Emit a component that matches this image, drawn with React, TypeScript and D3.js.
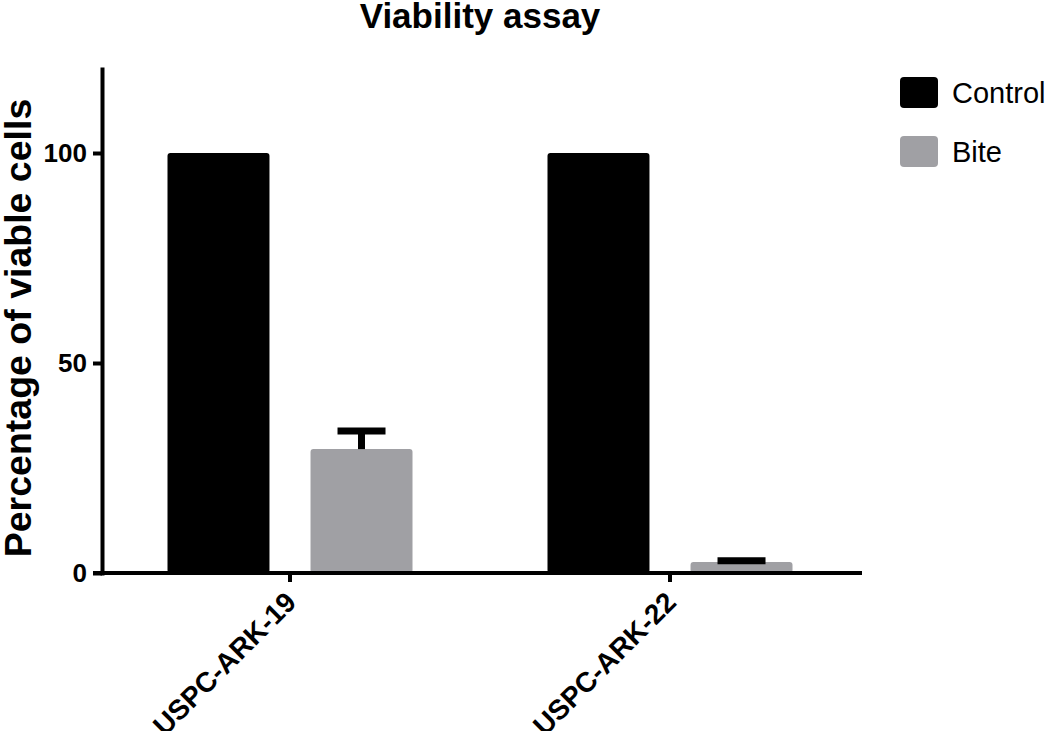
import React, { useEffect, useRef } from 'react'
import { select, scaleLinear, scalePoint, scaleBand, axisLeft } from 'd3'

const categories = ['USPC-ARK-19', 'USPC-ARK-22']
const seriesNames = ['Control', 'Bite']
const controlValues = [100, 100]
const biteValues = [29.5, 2.6]
const biteErrors = [4.3, 0.3]
const yTicks = [0, 50, 100]
const colors = ['#000000', '#a0a0a4']

const FONT = 'Liberation Sans, Arial, Helvetica, sans-serif'

const App = () => {
  const svgRef = useRef<SVGSVGElement>(null)

  useEffect(() => {
    const width = 1050
    const height = 731
    const svg = select(svgRef.current)
    svg.selectAll('*').remove()
    svg.attr('width', width).attr('height', height)

    const axisY = 573
    const axisX = 102

    const y = scaleLinear().domain([0, 120]).range([axisY, 69])
    const x0 = scalePoint<string>().domain(categories).range([100, 860]).padding(0.5)
    const x1 = scaleBand<string>().domain(seriesNames).range([-122.5, 122.5]).paddingInner(0.287).paddingOuter(0)

    // title
    svg.append('text')
      .attr('x', 480).attr('y', 28)
      .attr('text-anchor', 'middle')
      .attr('font-family', FONT).attr('font-weight', 'bold').attr('font-size', 35)
      .text('Viability assay')

    // y label
    svg.append('text')
      .attr('transform', `translate(31, 328) rotate(-90)`)
      .attr('text-anchor', 'middle')
      .attr('font-family', FONT).attr('font-weight', 'bold').attr('font-size', 37.5)
      .text('Percentage of viable cells')

    // bars
    const values = [controlValues, biteValues]
    seriesNames.forEach((s, si) => {
      svg.append('g')
        .selectAll('rect')
        .data(categories)
        .join('rect')
        .attr('x', (c) => x0(c)! + x1(s)!)
        .attr('y', (c, i) => y(values[si][i]))
        .attr('width', x1.bandwidth())
        .attr('height', (c, i) => axisY - y(values[si][i]))
        .attr('rx', 3)
        .attr('fill', colors[si])
    })

    // error bars (upper only)
    const capW = 48
    const eg = svg.append('g').attr('stroke', '#000')
    categories.forEach((c, i) => {
      const cx = x0(c)! + x1('Bite')! + x1.bandwidth() / 2
      const top = y(biteValues[i] + biteErrors[i])
      eg.append('line')
        .attr('x1', cx).attr('x2', cx)
        .attr('y1', y(biteValues[i])).attr('y2', top)
        .attr('stroke-width', 7)
      eg.append('line')
        .attr('x1', cx - capW / 2).attr('x2', cx + capW / 2)
        .attr('y1', top).attr('y2', top)
        .attr('stroke-width', 7)
    })

    // y axis
    const yAxis = axisLeft(y).tickValues(yTicks).tickSize(9).tickSizeOuter(0).tickPadding(6)
    const gy = svg.append('g')
      .attr('transform', `translate(${axisX},0)`)
      .call(yAxis)
    gy.select('.domain').attr('stroke-width', 4).attr('stroke-linecap', 'square')
    gy.selectAll('.tick line').attr('stroke-width', 4)
    gy.selectAll('.tick text')
      .attr('font-family', FONT).attr('font-weight', 'bold').attr('font-size', 26)
      .attr('fill', '#000')

    // x axis
    svg.append('line')
      .attr('x1', 93).attr('x2', 862)
      .attr('y1', axisY).attr('y2', axisY)
      .attr('stroke', '#000').attr('stroke-width', 4)

    const gx = svg.append('g')
    gx.selectAll('line')
      .data(categories)
      .join('line')
      .attr('x1', (c) => x0(c)!).attr('x2', (c) => x0(c)!)
      .attr('y1', axisY).attr('y2', axisY + 9)
      .attr('stroke', '#000').attr('stroke-width', 4)
    gx.selectAll('text')
      .data(categories)
      .join('text')
      .attr('transform', (c) => `translate(${x0(c)! - 6}, ${axisY + 17}) rotate(-45)`)
      .attr('text-anchor', 'end')
      .attr('dy', '0.7em')
      .attr('font-family', FONT).attr('font-weight', 'bold').attr('font-size', 28)
      .text((c) => c)

    // legend
    const lg = svg.append('g')
    seriesNames.forEach((s, i) => {
      const ly = 77 + i * 59
      lg.append('rect')
        .attr('x', 900).attr('y', ly)
        .attr('width', 38).attr('height', 31)
        .attr('rx', 4)
        .attr('fill', colors[i])
      lg.append('text')
        .attr('x', 952).attr('y', ly + 26)
        .attr('font-family', FONT).attr('font-size', 29)
        .text(s)
    })
  }, [])

  return <svg ref={svgRef} style={{ display: 'block', position: 'absolute', left: 0, top: 0 }} />
}

export default App
